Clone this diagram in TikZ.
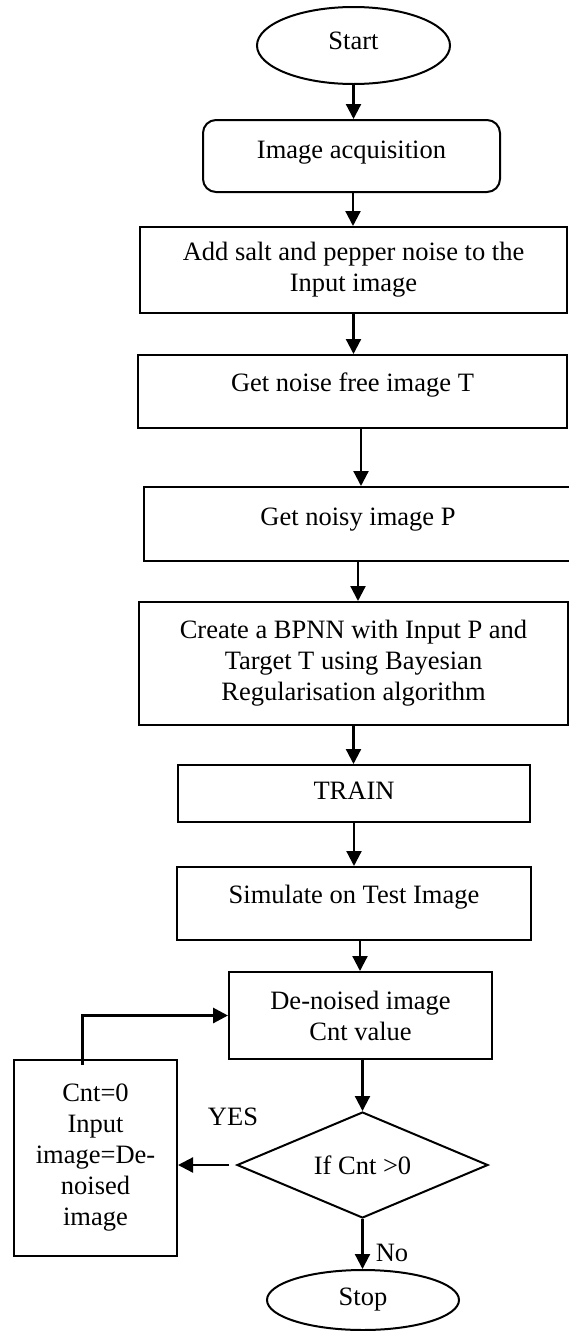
\documentclass[tikz,border=0pt]{standalone}
\usepackage{fontspec}
\setmainfont{Liberation Serif}
\usepackage{tikz}
\usetikzlibrary{arrows.meta, shapes.geometric, positioning}

\begin{document}
\begin{tikzpicture}[x=1pt, y=-1pt, >={Triangle[length=15pt,width=15pt]},
    every node/.style={font=\fontsize{26.5pt}{31pt}\selectfont, align=center},
    box/.style={draw, line width=2pt, inner sep=0pt, text height=18pt, text depth=6pt},
    lift/.style={text depth=#1},
    oval/.style={draw, ellipse, line width=2pt, inner sep=0pt},
    arr/.style={->, line width=2.2pt}]
    \useasboundingbox (0,0) rectangle (569,1331);

    % 1. Các khối chính
    \node[oval, minimum width=193pt, minimum height=77pt, text height=18pt, text depth=10pt] (start) at (353.5,45.5) {Start};
    \node[box, rounded corners=13pt, minimum width=297pt, minimum height=72pt, lift=14pt] (acq) at (351.5,156) {Image acquisition};
    \node[box, minimum width=427pt, minimum height=86pt, text height=, text depth=] (salt) at (353.5,270) {Add salt and pepper noise to the\\Input image};
    \node[box, minimum width=429pt, minimum height=73pt, lift=19pt] (free) at (352.5,391.5) {Get noise free image T};
    \node[box, minimum width=428pt, minimum height=74pt, lift=15pt] (noisy) at (358,524) {Get noisy image P};
    \node[box, minimum width=429pt, minimum height=123pt, text height=, text depth=] (bpnn) at (353.5,663.5) {Create a BPNN with Input P and\\Target T using Bayesian\\Regularisation algorithm};
    \node[box, minimum width=352pt, minimum height=57pt] (train) at (354,793.5) {TRAIN};
    \node[box, minimum width=354pt, minimum height=73pt, lift=19pt] (sim) at (354,903.5) {Simulate on Test Image};
    \node[box, minimum width=263pt, minimum height=87pt, text height=, text depth=] (deno) at (360.5,1015.5) {De-noised image\\Cnt value};
    \node[draw, diamond, line width=2pt, aspect=2.4, inner sep=0pt, minimum width=251pt, minimum height=106pt] (dec) at (362.5,1165) {If Cnt >0};
    \node[box, minimum width=163pt, minimum height=196pt, text height=, text depth=] (cnt) at (95.5,1158) {Cnt=0\\Input\\image=De-\\noised\\image};
    \node[oval, minimum width=192pt, minimum height=60pt] (stop) at (363,1300) {Stop};

    % 2. Nhãn nhánh
    \node (yes) at (233,1117) {YES};
    \node (no) at (392,1253) {No};

    % 3. Mũi tên
    \draw[arr] (start.south) -- (start.south |- acq.north);
    \draw[arr] ([xshift=1.5pt]acq.south) -- ([xshift=1.5pt]acq.south |- salt.north);
    \draw[arr] (salt.south) -- (salt.south |- free.north);
    \draw[arr] ([xshift=8.5pt]free.south) -- ([xshift=8.5pt]free.south |- noisy.north);
    \draw[arr] (noisy.south) -- (noisy.south |- bpnn.north);
    \draw[arr] (bpnn.south) -- (bpnn.south |- train.north);
    \draw[arr] (train.south) -- (train.south |- sim.north);
    \draw[arr] ([xshift=6pt]sim.south) -- ([xshift=6pt]sim.south |- deno.north);
    \draw[arr] (deno.south -| dec.north) -- (dec.north);
    \draw[arr] (dec.south) -- (dec.south |- stop.north);
    \draw[arr] ([xshift=-7pt]dec.west) -- (dec.west -| cnt.east);
    \draw[arr, line width=3pt] ([xshift=-13.5pt, yshift=-6pt]cnt.north) |- (deno.west);
\end{tikzpicture}
\end{document}
